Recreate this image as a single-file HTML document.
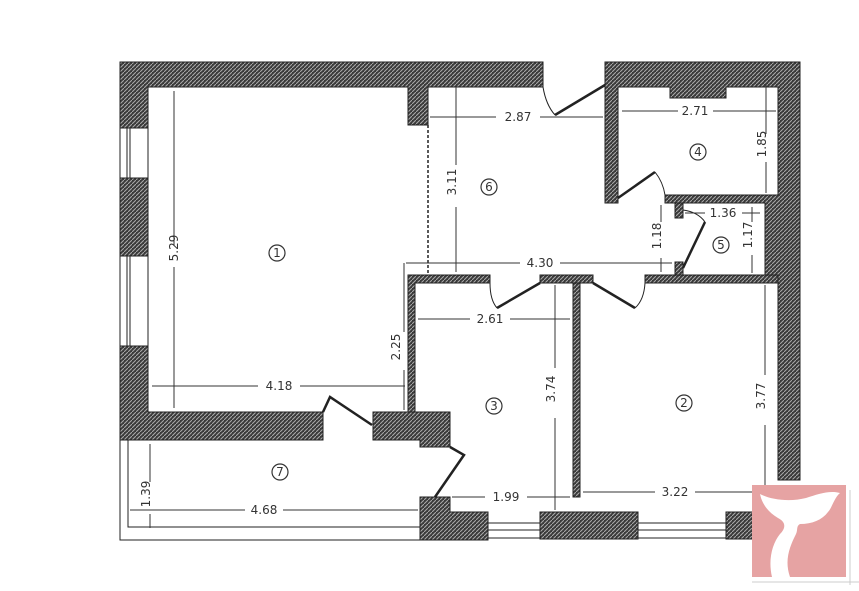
<!DOCTYPE html>
<html><head><meta charset="utf-8"><style>
html,body{margin:0;padding:0;background:#fff;}
svg{display:block;}
text{font-family:"DejaVu Sans","Liberation Sans",sans-serif;font-size:12px;fill:#333;}
</style></head><body>
<svg width="859" height="591" viewBox="0 0 859 591" xmlns="http://www.w3.org/2000/svg">
<defs>
<pattern id="h" width="4" height="4" patternUnits="userSpaceOnUse">
<rect width="4" height="4" fill="#3a3a3a"/>
<path d="M0,4 L4,0" stroke="#aaa" stroke-width="1"/>
</pattern>
</defs>
<rect width="859" height="591" fill="#fff"/>
<g fill="url(#h)" stroke="#222" stroke-width="1">
<path d="M120,62 H543 V87 H428 V125 H408 V87 H148 V128 H120 Z"/>
<rect x="120" y="178" width="28" height="78"/>
<path d="M120,346 H148 V412 H323 V440 H120 Z"/>
<path d="M605,62 H800 V480 H778 V275 H765 V203 H665 V195 H778 V87 H726 V98 H670 V87 H618 V203 H605 Z"/>
<rect x="675" y="203" width="8" height="15"/>
<rect x="675" y="262" width="8" height="14"/>
<path d="M408,275 H490 V283 H415 V412 H408 Z"/>
<rect x="540" y="275" width="53" height="8"/>
<rect x="645" y="275" width="133" height="8"/>
<rect x="573" y="283" width="7" height="214"/>
<path d="M373,412 H450 V447 H420 V440 H373 Z"/>
<path d="M420,497 H450 V512 H488 V540 H420 Z"/>
<rect x="540" y="512" width="98" height="27"/>
<rect x="726" y="512" width="30" height="27"/>
</g>
<g stroke="#222" fill="none" stroke-width="1">
<path d="M120,128 V178 M148,128 V178 M127,128 V178 M130,128 V178"/>
<path d="M120,256 V346 M148,256 V346 M127,256 V346 M130,256 V346"/>
<path d="M120,440 V540 H420 M128,440 V527 H420"/>
<path d="M488,523 H540 M488,530 H540 M488,538 H540 M638,523 H726 M638,530 H726 M638,538 H726"/>
<path d="M323,412 L330,397 L372,425" stroke-width="2.5"/>
<path d="M450,447 L464,455 L435,497" stroke-width="2.5"/>
<path d="M605,85 L555,115" stroke-width="2.5"/>
<path d="M543,87 Q546,105 555,115"/>
<path d="M618,198 L655,172" stroke-width="2.5"/>
<path d="M655,172 Q663,182 665,195"/>
<path d="M683,268 L705,222" stroke-width="2.5"/>
<path d="M683,210 Q698,212 705,222"/>
<path d="M540,283 L497,308" stroke-width="2.5"/>
<path d="M490,283 Q490,300 497,308"/>
<path d="M593,283 L635,308" stroke-width="2.5"/>
<path d="M645,283 Q644,300 635,308"/>
<path d="M428,125 V275" stroke-dasharray="3,2" stroke-width="1.5"/>
</g>
<g stroke="#333" stroke-width="1" fill="none">
<path d="M174,91 V245 M174,267 V408"/>
<path d="M152,386 H258 M300,386 H405"/>
<path d="M404,263 V332 M404,370 V410"/>
<path d="M456,87 V165 M456,207 V272"/>
<path d="M430,117 H496 M540,117 H603"/>
<path d="M406,263 H520 M560,263 H672"/>
<path d="M661,205 V222 M661,258 V272"/>
<path d="M622,111 H678 M713,111 H776 M766,84 V96"/>
<path d="M766,85 V134 M766,162 V193"/>
<path d="M685,213 H705 M742,213 H760 M752,207 V219"/>
<path d="M752,207 V222 M752,255 V273"/>
<path d="M418,319 H470 M510,319 H570"/>
<path d="M555,285 V368 M555,418 V510"/>
<path d="M452,497 H485 M527,497 H570"/>
<path d="M583,492 H655 M695,492 H752"/>
<path d="M765,285 V375 M765,425 V490"/>
<path d="M150,444 V482 M150,514 V528"/>
<path d="M130,510 H245 M283,510 H418"/>
</g>
<g>
<text x="186" y="256" transform="rotate(-90 178 256)" text-anchor="middle">5.29</text>
<text x="279" y="390" text-anchor="middle">4.18</text>
<text x="404" y="351" transform="rotate(-90 400 351)" text-anchor="middle">2.25</text>
<text x="460" y="186" transform="rotate(-90 456 186)" text-anchor="middle">3.11</text>
<text x="518" y="121" text-anchor="middle">2.87</text>
<text x="540" y="267" text-anchor="middle">4.30</text>
<text x="665" y="240" transform="rotate(-90 661 240)" text-anchor="middle">1.18</text>
<text x="695" y="115" text-anchor="middle">2.71</text>
<text x="770" y="148" transform="rotate(-90 766 148)" text-anchor="middle">1.85</text>
<text x="723" y="217" text-anchor="middle">1.36</text>
<text x="756" y="239" transform="rotate(-90 752 239)" text-anchor="middle">1.17</text>
<text x="490" y="323" text-anchor="middle">2.61</text>
<text x="559" y="393" transform="rotate(-90 555 393)" text-anchor="middle">3.74</text>
<text x="506" y="501" text-anchor="middle">1.99</text>
<text x="675" y="496" text-anchor="middle">3.22</text>
<text x="769" y="400" transform="rotate(-90 765 400)" text-anchor="middle">3.77</text>
<text x="154" y="498" transform="rotate(-90 150 498)" text-anchor="middle">1.39</text>
<text x="264" y="514" text-anchor="middle">4.68</text>
</g>
<g fill="none" stroke="#333" stroke-width="1.2">
<circle cx="277" cy="253" r="8"/><circle cx="489" cy="187" r="8"/>
<circle cx="698" cy="152" r="8"/><circle cx="721" cy="245" r="8"/>
<circle cx="494" cy="406" r="8"/><circle cx="684" cy="403" r="8"/>
<circle cx="280" cy="472" r="8"/>
</g>
<g style="font-size:11px" text-anchor="middle">
<text x="277" y="257">1</text><text x="489" y="191">6</text>
<text x="698" y="156">4</text><text x="721" y="249">5</text>
<text x="494" y="410">3</text><text x="684" y="407">2</text>
<text x="280" y="476">7</text>
</g>
<rect x="752" y="485" width="94" height="92" fill="#e6a3a3"/>
<path d="M760,494 C772,500 790,502 806,498 C818,494 830,490 840,493 C834,498 832,508 828,512 C822,520 812,524 800,524 C796,526 798,530 796,534 C790,546 784,560 790,577 L772,577 C768,560 772,544 780,534 C786,528 786,522 778,518 C768,512 762,504 760,494 Z" fill="#fff"/>
<path d="M850,490 V585 M752,582 H859" stroke="#ccc" stroke-width="1"/>
</svg>
</body></html>
